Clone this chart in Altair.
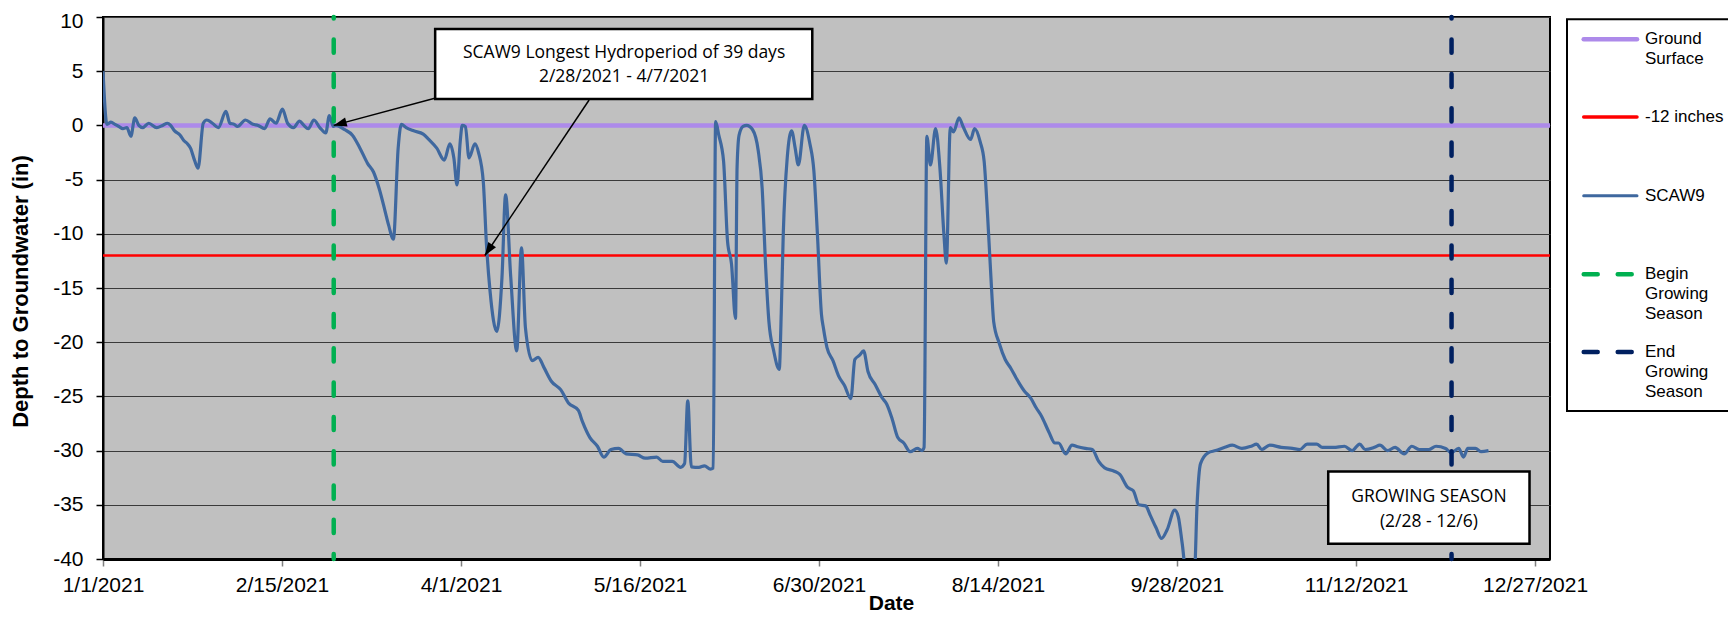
import math
import altair as alt
import pandas as pd

START = pd.Timestamp("2021-01-01")

# ---------------- data ----------------
# SCAW9: day offset from 1/1/2021 and depth to groundwater (in)
scaw9_day = [
    0, 1, 2, 3, 4, 5, 6, 7, 8, 9,
    10, 11.5, 13.5, 15, 16.2, 17, 18, 19.4, 20.3, 21.1,
    22, 23, 23.9, 25.2, 26.1, 27.5, 29, 30.9, 31.9, 33,
    33.8, 35.8, 37.7, 39, 40.6, 42, 43.5, 45.1, 46.4, 47.9,
    49.4, 50.5, 51.6, 53, 54.5, 56, 56.9, 57.9, 58.5,
    60.8, 62.7, 64.6, 66.5, 68, 69.4, 70.9, 71.8, 73, 74.2,
    75, 76.2, 78.1, 80.5, 81.9, 83.9, 85.8, 87.2, 88.2, 89,
    89.8, 90.3, 91.1, 92, 93.5, 94.4, 95.6, 96.4, 97.3, 99,
    100.3, 101.2, 102.5, 104, 105.2, 106.2, 107.9, 109.4, 110.8, 112.7,
    115.1, 117, 119.5, 120.5, 122.4, 124.3, 125.9, 127.7, 129.6, 131.5,
    134.4, 136.3, 139.2, 140.7, 143.1, 145.2, 146.2, 147, 147.9, 149.8,
    151.2, 152.7, 153.4,
    154, 154.8, 156, 157, 158, 159, 159.4, 159.9, 160.9, 161.8,
    163.3, 164.7, 165.7, 166.6, 167.4, 168.6, 170, 170.5, 171, 172,
    173.1, 174, 174.8, 176.3, 177.7, 178.7, 179.6, 180.6, 181.1, 182,
    183.5, 184.9, 186.4, 188, 189, 190.2, 191.2, 192.3, 194.1, 195.8,
    197, 198.4, 199.8, 201.3, 202.9, 204.7, 205.9, 206.4,
    207.1, 208, 209.3, 210.4, 211.4, 212, 213, 213.8, 215.2, 216.2,
    218.1, 219.1, 220.5, 221.5, 222.4, 223.4, 223.9, 225.3, 226.8, 228.2,
    229.7, 231.6, 233.3, 234.5, 235.9, 237.8, 239.3, 240.2, 242, 243.6,
    245, 247, 248.7, 250.3, 251.8, 254.2, 255.6, 257.6, 259, 260.4,
    262.1, 263.3, 264.7, 266.1, 267.5, 269.4, 270.3, 271.3, 272.2, 274.4,
    275, 275.9, 277.8,
    279.7, 282, 283.9, 286.3, 288.6, 290, 291.3, 293.3, 296.2, 299,
    300.9, 302.7, 305.1, 306.5, 309.3, 312.1, 314, 315.9, 317.3, 319.6,
    321, 322.9, 324.8, 327.1, 329, 330.9, 333.3, 335.1, 337.5, 338.9,
    340.8, 342, 343.1, 345, 346.4, 348.3,
]
scaw9_depth = [
    5.0, 0.1, 0.3, 0.1, -0.1, -0.3, -0.2, -1.0, 0.7, 0.0,
    -0.2, 0.2, -0.2, 0.0, 0.2, 0.0, -0.5, -0.9, -1.4, -1.65,
    -2.1, -3.2, -3.95, 0.2, 0.5, 0.2, -0.2, 1.3, 0.2, 0.1,
    -0.1, 0.5, 0.1, 0.0, -0.3, 0.6, 0.2, 1.5, 0.2, -0.2,
    0.4, 0.0, -0.3, 0.5, -0.2, -0.7, 0.9, -0.1, 0.0,
    -0.4, -0.9, -2.1, -3.5, -4.3, -5.8, -7.9, -9.2, -10.5, -2.1,
    0.1, -0.2, -0.5, -0.8, -1.3, -2.1, -3.2, -1.7, -3.0, -5.5,
    -1.5, 0.0, -0.1, -3.0, -1.7, -2.5, -5.2, -11.0, -15.3, -19.0,
    -14.0, -6.4, -14.0, -20.8, -11.3, -18.7, -21.7, -21.4, -22.3, -23.6,
    -24.4, -25.6, -26.3, -27.3, -28.8, -29.6, -30.6, -29.9, -29.8, -30.3,
    -30.4, -30.7, -30.6, -31.0, -31.0, -31.55, -31.2, -25.4, -31.5, -31.55,
    -31.4, -31.7, -31.6,
    0.34, -0.9, -3.3, -10.7, -12.8, -17.8, -3.8, -0.9, -0.1, 0.0,
    -0.4, -2.3, -5.8, -13.2, -18.1, -20.8, -22.5, -17.3, -10.1, -3.0,
    -0.5, -2.1, -3.65, 0.0, -1.7, -4.2, -10.1, -17.4, -18.7, -20.5,
    -21.7, -23.1, -24.0, -25.2, -21.6, -21.2, -20.8, -22.7, -23.9, -25.1,
    -25.7, -27.1, -28.8, -29.3, -30.1, -29.8, -30.0, -29.7,
    -1.0, -3.65, -0.3, -4.0, -10.1, -12.7, -0.2, -0.6, 0.7, -0.1,
    -1.3, -0.3, -1.5, -3.3, -8.5, -15.3, -18.1, -20.1, -21.6, -22.4,
    -23.4, -24.5, -25.2, -26.0, -26.8, -28.3, -29.3, -29.3, -30.3, -29.5,
    -29.65, -29.8, -29.9, -31.0, -31.6, -31.9, -32.2, -33.4, -33.7, -35.0,
    -35.1, -36.0, -37.1, -38.1, -37.3, -35.5, -36.1, -38.6, -41.0, -41.0,
    -35.2, -31.2, -30.2,
    -30.0, -29.7, -29.5, -29.8, -29.6, -29.4, -29.9, -29.5, -29.7, -29.8,
    -29.9, -29.4, -29.4, -29.7, -29.7, -29.6, -30.0, -29.4, -29.9, -29.7,
    -29.5, -30.0, -29.7, -30.3, -29.6, -29.9, -29.9, -29.6, -29.8, -30.2,
    -29.8, -30.6, -29.8, -29.8, -30.1, -30.0,
]

ground_surface_in = [0.0]
threshold_in = [-12.0]
season_names = ["Begin Growing Season", "End Growing Season"]
season_dates = ["2021-02-28", "2021-12-06"]

tick_dates = ["2021-01-01", "2021-02-15", "2021-04-01", "2021-05-16", "2021-06-30",
              "2021-08-14", "2021-09-28", "2021-11-12", "2021-12-27"]
y_ticks = [-40, -35, -30, -25, -20, -15, -10, -5, 0, 5, 10]

# annotation boxes (day offsets / depth values)
box_day1 = [83.5, 308.0]
box_day2 = [178.3, 358.6]
box_top = [8.9, -31.92]
box_bottom = [2.43, -38.6]
box_lines = ["SCAW9 Longest Hydroperiod of 39 days", "2/28/2021 - 4/7/2021",
             "GROWING SEASON", "(2/28 - 12/6)"]
box_line_day = [131.0, 131.0, 333.3, 333.3]
box_line_value = [6.71, 4.48, -34.27, -36.57]

# arrows
arrow_from_day = [84.8, 122.2]
arrow_from_value = [2.64, 2.34]
arrow_to_day = [58.0, 96.0]
arrow_to_value = [0.0, -12.0]

# ---------------- layout / style ----------------
W, H = 1447, 542
X_END_DAY = 363.75
Y_MIN, Y_MAX = -40, 10
FONT = "Liberation Sans"
BOX_FONT = "Open Sans"
PURPLE = "#AD8AEA"
RED = "#FF0000"
BLUE = "#3F689F"
GREEN = "#00B050"
NAVY = "#002060"


def iso(day):
    return (START + pd.Timedelta(days=day)).strftime("%Y-%m-%dT%H:%M:%S")


def dt(ts):
    ts = pd.Timestamp(ts)
    return alt.DateTime(year=ts.year, month=ts.month, date=ts.day,
                        hours=ts.hour, minutes=ts.minute)


x_scale = alt.Scale(domain=[dt(iso(0)), dt(iso(X_END_DAY))], nice=False)
y_scale = alt.Scale(domain=[Y_MIN, Y_MAX], nice=False, zero=False)

x_axis = alt.Axis(
    values=[dt(d) for d in tick_dates], format="%-m/%-d/%Y",
    labelFont=FONT, labelFontSize=21, labelColor="black", labelPadding=8,
    labelAlign="center", labelOverlap=False, labelFlush=False,
    tickColor="#7f7f7f", tickSize=7, tickWidth=1.5,
    domainColor="black", domainWidth=3, grid=False,
    titleFont=FONT, titleFontSize=21, titleFontWeight="bold", titleColor="black",
    titleX=788, titleY=44, titleBaseline="middle", titleAlign="center",
)
y_axis = alt.Axis(
    values=y_ticks, labelExpr="datum.value + ''",
    labelFont=FONT, labelFontSize=21, labelColor="black", labelPadding=13,
    labelOffset={"condition": {"test": "datum.value == 10", "value": 4}, "value": 0},
    tickColor="black", tickSize=7, tickWidth=1.5,
    domainColor="black", domainWidth=2,
    grid=True, gridColor="#3a3a3a", gridWidth=1.2,
    titleFont=FONT, titleFontSize=22, titleFontWeight="bold", titleColor="black",
    titleX=-83, titleY=274, titleAngle=270, titleBaseline="middle", titleAlign="center",
)
X_TITLE = "Date"
Y_TITLE = "Depth to Groundwater (in)"


def X(field):
    return alt.X(f"{field}:T", scale=x_scale, axis=x_axis, title=X_TITLE)


def Y(field):
    return alt.Y(f"{field}:Q", scale=y_scale, axis=y_axis, title=Y_TITLE)


# ---------------- tables ----------------
series_df = pd.DataFrame({"date": [iso(d) for d in scaw9_day], "value": scaw9_depth})
ground_df = pd.DataFrame({"value": ground_surface_in})
thresh_df = pd.DataFrame({"value": threshold_in})
season_df = pd.DataFrame({"name": season_names,
                          "date": [iso((pd.Timestamp(d) - START).days) for d in season_dates],
                          "top": [Y_MAX] * 2, "bottom": [Y_MIN] * 2})
box_df = pd.DataFrame({"date": [iso(d) for d in box_day1], "date2": [iso(d) for d in box_day2],
                       "value": box_top, "value2": box_bottom})
text_df = pd.DataFrame({"date": [iso(d) for d in box_line_day], "value": box_line_value,
                        "text": box_lines})

px_day = W / X_END_DAY
px_unit = H / (Y_MAX - Y_MIN)
angles = []
for d0, v0, d1, v1 in zip(arrow_from_day, arrow_from_value, arrow_to_day, arrow_to_value):
    dx = (d1 - d0) * px_day
    dy = -(v1 - v0) * px_unit
    angles.append(math.degrees(math.atan2(dx, -dy)) % 360)
arrow_df = pd.DataFrame({"date": [iso(d) for d in arrow_from_day], "value": arrow_from_value,
                         "date2": [iso(d) for d in arrow_to_day], "value2": arrow_to_value,
                         "tdate": [iso(d) for d in arrow_to_day], "tvalue": arrow_to_value,
                         "angle": angles})

# ---------------- layers ----------------
ground = alt.Chart(ground_df).mark_rule(color=PURPLE, strokeWidth=4.5).encode(y=Y("value"))
thresh = alt.Chart(thresh_df).mark_rule(color=RED, strokeWidth=2.5).encode(y=Y("value"))
line = alt.Chart(series_df).mark_line(color=BLUE, strokeWidth=3.2, interpolate="monotone",
                                      clip=True).encode(x=X("date"), y=Y("value"))
dash_kw = dict(strokeWidth=4.5, strokeDash=[13.2, 21.1], strokeDashOffset=11.7, strokeCap="round")
begin = alt.Chart(season_df.iloc[[0]]).mark_rule(color=GREEN, **dash_kw).encode(
    x=X("date"), y=Y("top"), y2="bottom")
end = alt.Chart(season_df.iloc[[1]]).mark_rule(color=NAVY, **dash_kw).encode(
    x=X("date"), y=Y("top"), y2="bottom")

boxes = alt.Chart(box_df).mark_rect(fill="white", stroke="black", strokeWidth=2.5).encode(
    x=X("date"), x2="date2", y=Y("value"), y2="value2")
texts = alt.Chart(text_df).mark_text(font=BOX_FONT, fontSize=17.5, color="black",
                                     align="center", baseline="middle").encode(
    x=X("date"), y=Y("value"), text="text:N")
arrow_lines = alt.Chart(arrow_df).mark_rule(color="black", strokeWidth=1.5).encode(
    x=X("date"), x2="date2", y=Y("value"), y2="value2")
ARROW_PATH = "M0,0L-0.36,1L0.36,1Z"
arrow_heads = alt.Chart(arrow_df).mark_point(shape=ARROW_PATH, filled=True, color="black",
                                             opacity=1, size=676, strokeWidth=0).encode(
    x=X("tdate"), y=Y("tvalue"), angle=alt.Angle("angle:Q", scale=None))

# ---------------- manual legend (pixel layout beside the plot) ----------------
legend_entries = [
    (["Ground", "Surface"], PURPLE, 4.5, None),
    (["-12 inches"], RED, 3.5, None),
    (["SCAW9"], BLUE, 3.0, None),
    (["Begin", "Growing", "Season"], GREEN, 4.5, [14, 20]),
    (["End", "Growing", "Season"], NAVY, 4.5, [14, 20]),
]
legend_y = [22.3, 100, 178.7, 257.3, 335]
one = pd.DataFrame({"k": [0]})
legend_layers = [
    alt.Chart(one).mark_rect(fill="white", stroke="black", strokeWidth=2).encode(
        x=alt.value(1464), x2=alt.value(1700), y=alt.value(2.3), y2=alt.value(394))
]
for (lines, col, sw, dash), yy in zip(legend_entries, legend_y):
    kw = dict(color=col, strokeWidth=sw, strokeCap="round")
    if dash:
        kw["strokeDash"] = dash
        x1, x2 = 1480.7, 1531
    else:
        x1, x2 = 1480.7, 1534
    legend_layers.append(alt.Chart(one).mark_rule(**kw).encode(
        x=alt.value(x1), x2=alt.value(x2), y=alt.value(yy)))
    for i, t in enumerate(lines):
        legend_layers.append(alt.Chart(one).mark_text(
            font=FONT, fontSize=17, color="black", align="left", baseline="middle").encode(
            x=alt.value(1542), y=alt.value(yy + 20 * i), text=alt.value(t)))

chart = alt.layer(
    ground, thresh, line, begin, end, arrow_lines, arrow_heads, boxes, texts, *legend_layers
).properties(
    width=W, height=H,
    padding={"left": 95, "top": 9, "right": 178, "bottom": 57},
    autosize=alt.AutoSizeParams(type="none"),
    background="white",
).configure_view(fill="#C0C0C0", stroke="black", strokeWidth=2)

chart.save("out.html", embed_options={"renderer": "svg", "actions": False})
